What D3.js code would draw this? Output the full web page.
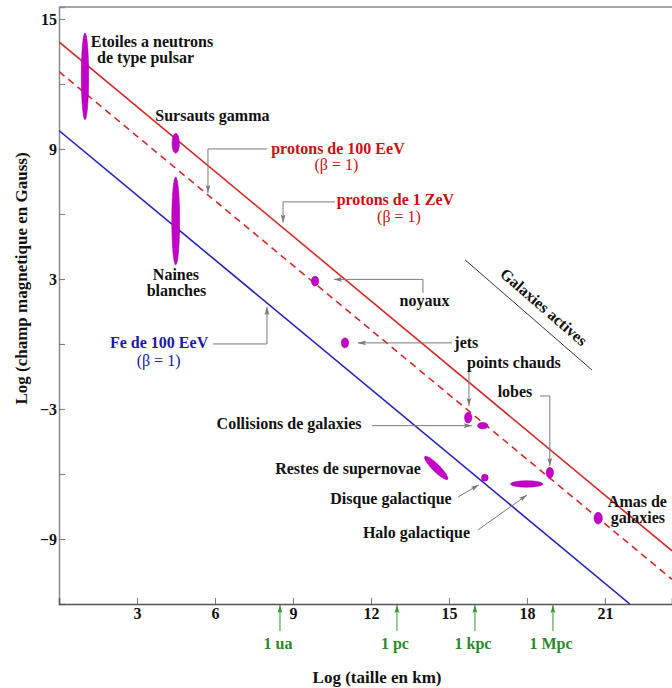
<!DOCTYPE html>
<html>
<head>
<meta charset="utf-8">
<script src="https://cdn.jsdelivr.net/npm/d3@7"></script>
<style>
  html, body { margin: 0; padding: 0; background: #fff; }
  svg { display: block; font-family: "Liberation Serif", "Times New Roman", serif; font-weight: bold; }
</style>
</head>
<body>
<div id="chart"></div>
<script>
// ---------- DATA ----------
// Hillas lines: [logL (km), logB (Gauss)] endpoints
const protons1ZeV   = [[0, 13.94], [23.58, -9.55]];
const protons100EeV = [[0, 12.57], [23.58, -10.86]];
const fe100EeV      = [[0, 9.85], [21.96, -12]];

// Astrophysical objects: centre (logL, logB), half-extent (dL, dB), tilt (deg)
const objNames = ["Etoiles a neutrons", "Sursauts gamma", "Naines blanches", "noyaux", "jets",
                  "points chauds", "Collisions de galaxies", "Restes de supernovae",
                  "Disque galactique", "Halo galactique", "lobes", "Amas de galaxies"];
const objL  = [1.0, 4.49, 4.49, 9.85, 11.0, 15.74, 16.30, 14.51, 16.38, 17.99, 18.88, 20.74];
const objB  = [12.35, 9.26, 5.68, 2.90, 0.05, -3.40, -3.77, -5.72, -6.17, -6.46, -5.94, -8.04];
const objDL = [0.14, 0.14, 0.15, 0.14, 0.14, 0.14, 0.20, 0.62, 0.13, 0.62, 0.14, 0.16];
const objDB = [2.00, 0.46, 2.03, 0.23, 0.23, 0.25, 0.15, 0.17, 0.16, 0.15, 0.25, 0.27];
const objTilt = [0, 0, 0, 0, 0, 0, 0, 45, 0, 0, 0, 0];

// Axis ticks
const xTicks = [3, 6, 9, 12, 15, 18, 21];
const yTicks = [-9, -6, -3, 0, 3, 6, 9, 12, 15];
const yTickLabels = [15, 9, 3, -3, -9];

// Reference distances on the size axis (log km)
const distNames = ["1 ua", "1 pc", "1 kpc", "1 Mpc"];
const distL = [8.5, 13.0, 16.0, 19.0];

// Labels: text, logL, logB (centre), colour key, weight
const labels = [
  ["Etoiles a neutrons", 3.58, 13.97, "k", "bold"],
  ["de type pulsar", 3.33, 13.20, "k", "bold"],
  ["Sursauts gamma", 5.90, 10.52, "k", "bold"],
  ["Naines", 4.50, 3.19, "k", "bold"],
  ["blanches", 4.52, 2.45, "k", "bold"],
  ["protons de 100 EeV", 10.73, 9.00, "r", "bold"],
  ["(β = 1)", 10.67, 8.26, "r", "normal"],
  ["protons de 1 ZeV", 12.94, 6.65, "r", "bold"],
  ["(β = 1)", 13.08, 5.86, "r", "normal"],
  ["noyaux", 14.06, 1.99, "k", "bold"],
  ["Fe de 100 EeV", 3.85, 0.05, "b", "bold"],
  ["(β = 1)", 3.83, -0.78, "b", "normal"],
  ["jets", 15.67, 0.05, "k", "bold"],
  ["points chauds", 17.50, -0.87, "k", "bold"],
  ["lobes", 17.54, -2.21, "k", "bold"],
  ["Collisions de galaxies", 8.85, -3.69, "k", "bold"],
  ["Restes de supernovae", 11.12, -5.77, "k", "bold"],
  ["Disque galactique", 12.77, -7.15, "k", "bold"],
  ["Halo galactique", 13.75, -8.72, "k", "bold"],
  ["Amas de", 22.25, -7.29, "k", "bold"],
  ["galaxies", 22.27, -8.03, "k", "bold"]
];

// Leader lines (in data coordinates), last point carries the arrow head
const leaders = [
  [[8.0, 9.0], [5.73, 9.0], [5.73, 6.97]],
  [[10.62, 6.555], [8.62, 6.555], [8.62, 5.60]],
  [[5.92, 0.0], [8.0, 0.0], [8.0, 1.71]],
  [[14.0, 2.36], [14.0, 2.98], [10.58, 2.98]],
  [[15.12, 0.05], [11.5, 0.05]],
  [[15.77, -1.10], [15.77, -2.86]],
  [[18.5, -2.40], [18.88, -2.40], [18.88, -5.63]],
  [[12.04, -3.77], [15.88, -3.77]],
  [[15.35, -7.06], [16.15, -6.50]],
  [[16.12, -8.58], [18.0, -6.97]]
];
const galaxiesActivesLine = [[15.62, 3.88], [20.5, -1.20]];
const galaxiesActivesText = ["Galaxies actives", 18.65, 1.71];

// ---------- CHART ----------
const W = 672, H = 688;
const margin = { left: 59, top: 7, right: 0, bottom: 84 };
const colors = { k: "#111", r: "#cc1010", b: "#1a1aa6" };
const FS = 16;

const x = d3.scaleLinear().domain([0, 23.58]).range([margin.left, W]);
const y = d3.scaleLinear().domain([-12, 15.55]).range([H - margin.bottom, margin.top]);

const svg = d3.select("#chart").append("svg").attr("width", W).attr("height", H);

const defs = svg.append("defs");
defs.append("clipPath").attr("id", "plot")
  .append("rect").attr("x", margin.left).attr("y", margin.top)
  .attr("width", W - margin.left).attr("height", y(-12) - margin.top);
function marker(id, color) {
  defs.append("marker").attr("id", id)
    .attr("viewBox", "0 0 8 6").attr("refX", 8).attr("refY", 3)
    .attr("markerWidth", 8).attr("markerHeight", 6)
    .attr("markerUnits", "userSpaceOnUse").attr("orient", "auto")
    .append("path").attr("d", "M0,0.6 L8,3 L0,5.4 L1.5,3 Z").attr("fill", color);
}
marker("arrGray", "#7a7a7a");
marker("arrGreen", "#2e9a2e");

// frame top
svg.append("line").attr("x1", x(0)).attr("x2", W).attr("y1", y(15.55)).attr("y2", y(15.55))
  .attr("stroke", "#8a8a8a").attr("stroke-width", 1.5);

// axes
const yAxis = d3.axisLeft(y).tickValues(yTicks).tickSize(-6).tickPadding(2)
  .tickFormat(d => yTickLabels.includes(d) ? d3.format("d")(d) : "");
const gy = svg.append("g").attr("transform", `translate(${x(0)},0)`).call(yAxis);
gy.select(".domain").attr("stroke", "#8a8a8a").attr("stroke-width", 1.5);

const xAxis = d3.axisBottom(x).tickValues(xTicks).tickSize(-6).tickPadding(4)
  .tickFormat(d3.format("d"));
const gx = svg.append("g").attr("transform", `translate(0,${y(-12)})`).call(xAxis);
gx.select(".domain").attr("stroke", "#555").attr("stroke-width", 1.5);

[gx, gy].forEach(g => {
  g.selectAll(".tick line").attr("stroke", "#777").attr("stroke-width", 1);
  g.selectAll(".tick text").attr("font-family", "Liberation Serif").attr("font-weight", "bold")
    .attr("font-size", FS).attr("fill", "#111");
});
gy.selectAll(".tick text").attr("dy", "0.35em");

// axis titles
svg.append("text").attr("transform", `translate(21,${(y(15.55)+y(-12))/2 - 27}) rotate(-90)`)
  .attr("text-anchor", "middle").attr("dominant-baseline", "central")
  .attr("font-size", 17).attr("fill", "#111").text("Log (champ magnetique en Gauss)");
svg.append("text").attr("x", 377).attr("y", 677)
  .attr("text-anchor", "middle").attr("dominant-baseline", "central")
  .attr("font-size", 17).attr("fill", "#111").text("Log (taille en km)");

// reference distances
const axisY = y(-12);
distL.forEach((d, i) => {
  svg.append("line").attr("x1", x(d)).attr("x2", x(d)).attr("y1", axisY + 27).attr("y2", axisY + 1)
    .attr("stroke", "#2e9a2e").attr("stroke-width", 1).attr("marker-end", "url(#arrGreen)");
  svg.append("text").attr("x", x(d) - 2).attr("y", axisY + 39)
    .attr("text-anchor", "middle").attr("dominant-baseline", "central")
    .attr("font-size", FS).attr("fill", "#2a8a2a").text(distNames[i]);
});

// plot content
const plot = svg.append("g").attr("clip-path", "url(#plot)");
const lineGen = d3.line().x(d => x(d[0])).y(d => y(d[1]));

plot.append("path").datum(protons1ZeV).attr("d", lineGen)
  .attr("fill", "none").attr("stroke", "#d42a2a").attr("stroke-width", 1.6);
plot.append("path").datum(protons100EeV).attr("d", lineGen)
  .attr("fill", "none").attr("stroke", "#d42a2a").attr("stroke-width", 1.6)
  .attr("stroke-dasharray", "7,5");
plot.append("path").datum(fe100EeV).attr("d", lineGen)
  .attr("fill", "none").attr("stroke", "#2424b8").attr("stroke-width", 1.6);

// leader lines
leaders.forEach(pts => {
  plot.append("path").datum(pts).attr("d", lineGen)
    .attr("fill", "none").attr("stroke", "#7a7a7a").attr("stroke-width", 1)
    .attr("marker-end", "url(#arrGray)");
});
plot.append("path").datum(galaxiesActivesLine).attr("d", lineGen)
  .attr("fill", "none").attr("stroke", "#333").attr("stroke-width", 1);

// objects
const kx = x(1) - x(0), ky = y(0) - y(1);
objNames.forEach((n, i) => {
  plot.append("ellipse")
    .attr("transform", `translate(${x(objL[i])},${y(objB[i])}) rotate(${objTilt[i]})`)
    .attr("rx", objDL[i] * kx).attr("ry", objDB[i] * ky)
    .attr("fill", "#c200c8").attr("stroke", "#a000a8").attr("stroke-width", 0.6);
});

// labels
labels.forEach(l => {
  svg.append("text").attr("x", x(l[1])).attr("y", y(l[2]))
    .attr("text-anchor", "middle").attr("dominant-baseline", "central")
    .attr("font-size", FS).attr("font-weight", l[4]).attr("fill", colors[l[3]])
    .text(l[0]);
});

// rotated label
const gaAngle = Math.atan2(y(galaxiesActivesLine[1][1]) - y(galaxiesActivesLine[0][1]),
                           x(galaxiesActivesLine[1][0]) - x(galaxiesActivesLine[0][0])) * 180 / Math.PI;
svg.append("text")
  .attr("transform", `translate(${x(galaxiesActivesText[1])},${y(galaxiesActivesText[2])}) rotate(${gaAngle})`)
  .attr("text-anchor", "middle").attr("dominant-baseline", "central")
  .attr("font-size", FS).attr("fill", "#111").text(galaxiesActivesText[0]);
</script>
</body>
</html>
